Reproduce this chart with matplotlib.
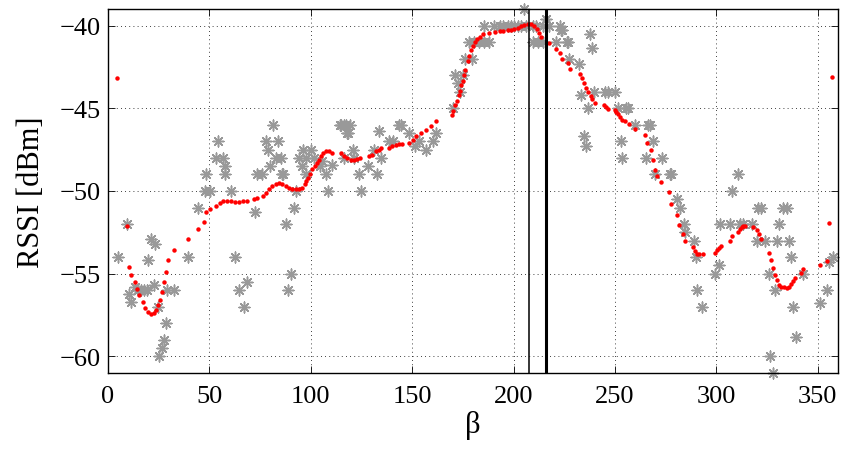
import numpy as np
import matplotlib.pyplot as plt

plt.rcParams['font.family'] = ['Liberation Serif', 'DejaVu Serif']

# measured RSSI samples (gray asterisks)
meas_beta = [4.7, 9.3, 10.1, 11.5, 13.4, 14.8, 16.1, 17.6, 19.0, 19.7, 21.4, 23.3, 22.5,
             24.6, 28.6, 27.4, 26.6, 25.3, 29.1, 32.4, 39.5, 44.2, 48.3, 47.7, 50.5,
             53.3, 54.3, 56.6, 57.9, 57.6, 60.6, 62.5, 64.5, 68.6, 67.3, 72.4, 73.6,
             76.1, 77.7, 78.8, 79.7, 81.3, 83.8, 82.6, 85.1, 85.6, 86.4, 87.9, 88.7,
             90.4, 91.7, 92.5, 94.2, 95.5, 96.1, 97.5, 97.8, 100.0, 101.6, 104.4,
             105.6, 107.4, 108.7, 110.6, 114.3, 116.4, 118.0, 114.8, 117.2, 119.2,
             118.5, 116.4, 120.9, 121.4, 123.8, 124.7, 128.4, 131.2, 133.7, 132.9,
             134.5, 138.7, 140.3, 143.3, 144.4, 148.5, 151.5, 153.5, 156.8, 160.1,
             161.7, 170.0, 171.3, 174.9, 172.4, 173.6, 176.2, 179.5, 178.2, 180.7,
             183.2, 185.6, 187.7, 185.6, 190.6, 193.1, 194.7, 197.1, 198.8, 200.4,
             202.1, 203.8, 206.2, 205.0, 209.5, 211.2, 214.4, 217.7, 222.7, 209.8,
             212.0, 214.4, 215.8, 223.5, 220.7, 226.3, 227.3, 232.4, 224.0, 226.8,
             237.9, 238.7, 233.4, 236.9, 234.6, 235.6, 239.6, 244.9, 246.6, 249.9,
             251.5, 255.7, 256.5, 252.8, 253.5, 259.8, 266.4, 267.5, 268.8, 265.1,
             273.0, 270.0, 277.0, 277.9, 280.4, 282.0, 284.0, 284.8, 288.9, 289.9,
             290.3, 293.0, 301.8, 306.7, 311.7, 313.0, 317.5, 307.9, 310.8, 320.7,
             321.9, 319.9, 324.0, 299.5, 301.1, 326.0, 329.0, 331.0, 329.8, 333.0,
             334.7, 336.0, 336.7, 338.0, 339.2, 326.5, 327.8, 343.0, 350.9, 354.5,
             355.8, 357.5]
meas_rssi = [-54.0, -52.0, -56.2, -56.7, -55.8, -56.0, -56.0, -56.0, -56.0, -54.2, -52.9,
             -53.2, -55.7, -57.0, -58.0, -59.0, -59.5, -60.0, -56.0, -56.0, -54.0,
             -51.0, -49.0, -50.0, -50.0, -48.0, -47.0, -48.0, -48.5, -49.0, -50.0,
             -54.0, -56.0, -55.5, -57.0, -51.3, -49.0, -49.0, -47.0, -47.5, -48.5,
             -46.0, -47.0, -48.0, -48.0, -49.0, -49.0, -52.0, -56.0, -55.0, -51.0,
             -50.0, -48.0, -48.5, -47.5, -49.0, -48.0, -47.5, -48.0, -48.5, -48.2,
             -49.0, -50.0, -48.4, -46.0, -46.0, -46.5, -46.0, -46.0, -46.0, -46.5,
             -48.0, -47.5, -48.0, -49.0, -50.0, -48.5, -47.5, -46.4, -49.0, -48.0,
             -47.0, -47.0, -46.0, -46.0, -46.5, -47.3, -47.0, -47.5, -47.0, -46.5,
             -45.0, -43.0, -43.0, -43.5, -44.0, -42.0, -42.0, -41.0, -41.0, -41.0,
             -41.0, -41.0, -40.0, -40.0, -40.0, -40.0, -40.0, -40.0, -40.0, -40.0,
             -40.0, -40.0, -39.0, -40.0, -40.0, -40.0, -40.0, -40.0, -41.0, -41.0,
             -41.0, -39.6, -40.3, -41.0, -41.0, -42.0, -42.3, -40.3, -41.0, -40.5,
             -41.35, -44.2, -45.0, -46.7, -47.3, -44.0, -44.0, -44.0, -44.0, -45.0,
             -45.0, -45.0, -47.0, -48.0, -46.0, -46.0, -46.0, -47.0, -48.0, -48.0,
             -49.0, -49.0, -49.0, -50.5, -51.0, -52.0, -52.5, -53.0, -54.0, -56.0,
             -57.0, -52.0, -52.0, -52.0, -52.0, -52.0, -50.0, -49.0, -51.0, -51.0,
             -53.0, -53.0, -55.0, -54.5, -55.0, -56.0, -52.0, -53.0, -51.0, -51.0,
             -53.0, -54.0, -57.0, -58.8, -60.0, -61.0, -55.0, -56.75, -56.0, -54.3,
             -54.0]

# smoothed estimate (red dots)
fit_beta = [4.4, 9.3, 10.5, 11.5, 13.4, 14.4, 15.4, 17.4, 18.4, 19.5, 21.4, 22.5, 23.6,
            24.6, 25.5, 26.6, 27.4, 28.4, 29.4, 32.5, 39.5, 44.4, 47.5, 48.5, 50.5,
            53.3, 55.3, 56.6, 58.6, 60.6, 62.5, 64.5, 66.5, 68.6, 71.9, 73.4, 76.5,
            77.7, 79.3, 81.0, 82.6, 84.3, 85.9, 87.6, 89.2, 90.9, 92.5, 94.2, 95.8,
            97.0, 97.8, 98.8, 99.8, 100.7, 101.9, 102.9, 104.0, 105.0, 106.0, 107.4,
            109.0, 110.3, 114.8, 116.4, 118.0, 119.7, 121.4, 123.0, 124.2, 128.8,
            130.1, 132.1, 133.4, 134.6, 138.7, 140.0, 142.0, 143.6, 144.9, 148.5,
            150.2, 151.9, 154.3, 156.8, 159.3, 161.7, 169.6, 170.0, 171.3, 171.9,
            172.9, 173.6, 174.1, 174.9, 175.6, 176.1, 177.4, 178.2, 178.8, 179.8,
            181.0, 182.0, 183.5, 185.1, 187.7, 190.9, 193.4, 194.7, 197.1, 198.8,
            200.4, 202.1, 203.8, 205.4, 207.0, 208.7, 210.3, 211.5, 212.5, 213.6,
            217.7, 221.1, 222.7, 224.0, 226.8, 228.0, 232.6, 233.6, 234.5, 235.9,
            236.9, 238.0, 238.9, 240.0, 244.4, 245.4, 246.6, 249.9, 250.7, 251.5,
            252.7, 253.7, 254.8, 256.8, 259.9, 264.7, 265.8, 267.8, 268.8, 270.0,
            270.8, 272.6, 276.6, 277.9, 280.7, 281.7, 283.6, 284.8, 288.6, 289.4,
            290.6, 291.4, 293.2, 299.6, 300.4, 301.1, 302.1, 306.7, 307.7, 310.8,
            311.7, 312.5, 313.3, 314.3, 317.9, 319.9, 321.1, 321.9, 325.8, 326.8,
            327.8, 328.8, 329.8, 330.8, 332.1, 333.4, 334.7, 336.0, 337.0, 338.0,
            339.0, 341.7, 342.6, 350.9, 354.5, 355.8, 357.0]
fit_rssi = [-43.2, -52.1, -54.6, -55.06, -55.5, -55.9, -56.3, -56.7, -57.07, -57.3, -57.43,
            -57.4, -57.2, -56.9, -56.6, -56.1, -55.5, -54.9, -54.2, -53.55, -52.9,
            -52.3, -51.85, -51.3, -51.1, -50.9, -50.7, -50.6, -50.62, -50.62, -50.65,
            -50.65, -50.62, -50.6, -50.5, -50.4, -50.3, -50.1, -49.9, -49.7, -49.6,
            -49.5, -49.6, -49.7, -49.8, -49.9, -49.9, -49.9, -49.8, -49.6, -49.4,
            -49.2, -49.0, -48.7, -48.5, -48.3, -48.1, -47.9, -47.7, -47.6, -47.6,
            -47.7, -47.7, -47.9, -48.0, -48.1, -48.1, -48.07, -48.0, -47.9, -47.8,
            -47.6, -47.5, -47.4, -47.4, -47.3, -47.2, -47.15, -47.15, -47.07, -46.9,
            -46.7, -46.5, -46.3, -46.1, -45.8, -45.42, -45.16, -44.8, -44.56, -44.2,
            -43.96, -43.6, -43.36, -43.0, -42.7, -42.15, -41.85, -41.5, -41.25, -41.0,
            -40.84, -40.68, -40.54, -40.44, -40.38, -40.34, -40.34, -40.28, -40.24,
            -40.2, -40.12, -40.04, -39.98, -39.9, -39.88, -40.0, -40.2, -40.44, -40.68,
            -41.08, -41.4, -41.65, -42.0, -42.25, -42.6, -42.9, -43.2, -43.5, -43.75,
            -44.0, -44.26, -44.46, -44.66, -44.78, -44.9, -45.02, -45.1, -45.2, -45.35,
            -45.5, -45.7, -45.8, -45.96, -46.27, -46.6, -47.07, -47.55, -48.13, -48.75,
            -49.08, -49.44, -50.08, -50.78, -51.45, -52.05, -52.6, -53.05, -53.4,
            -53.65, -53.8, -53.8, -53.8, -53.73, -53.54, -53.42, -53.3, -53.05, -52.73,
            -52.5, -52.3, -52.2, -52.13, -52.1, -52.15, -52.33, -52.6, -52.9, -53.73,
            -54.2, -54.64, -55.06, -55.4, -55.66, -55.78, -55.82, -55.86, -55.78,
            -55.64, -55.46, -55.26, -54.94, -54.7, -54.46, -54.22, -51.93, -43.1]

# angle markers (vertical lines)
beta_a = 207.7
beta_b = 216.1

fig = plt.figure(figsize=(8.46, 4.52), dpi=100)
ax = fig.add_axes([0.1277, 0.1726, 0.8628, 0.8053])

ax.scatter(meas_beta, meas_rssi, marker=(8, 2, 0), s=60, color='#999999',
           linewidths=1.1, zorder=2, clip_on=False)
ax.plot(fit_beta, fit_rssi, 'o', color='red', markersize=3.2, markeredgewidth=0,
        zorder=3)
ax.axvline(beta_a, color='black', linewidth=1.1, zorder=4)
ax.axvline(beta_b, color='black', linewidth=2.2, zorder=4)

ax.set_xlim(0, 360)
ax.set_ylim(-61, -39)
ax.set_xticks(np.arange(0, 351, 50))
ax.set_yticks(np.arange(-60, -39, 5))
ax.grid(True, linestyle=(0, (1, 4)), color='black', linewidth=0.6)
ax.tick_params(direction='in', top=True, right=True, labelsize=19, length=5,
               width=0.6)
ax.tick_params(axis='x', pad=9)
ax.tick_params(axis='y', pad=5)
for s in ax.spines.values():
    s.set_linewidth(1.0)

ax.set_xlabel('β', fontsize=22, labelpad=2)
ax.set_ylabel('RSSI [dBm]', fontsize=22, labelpad=10)

fig.savefig('out.png', dpi=100)
